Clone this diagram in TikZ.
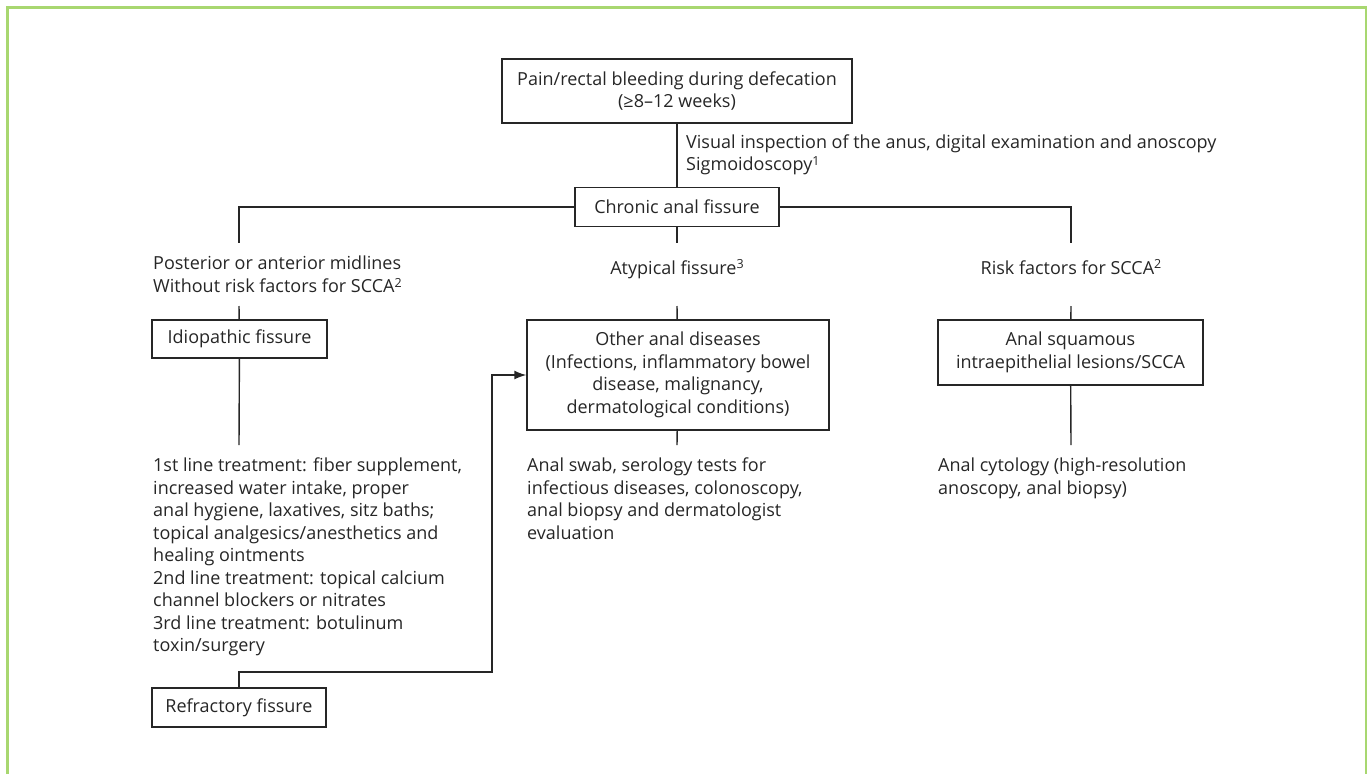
\documentclass[tikz,border=0pt]{standalone}
\usepackage{fontspec}
\setmainfont{Open Sans}
\usetikzlibrary{positioning,arrows.meta}
\definecolor{framegreen}{RGB}{168,215,112}
\definecolor{ink}{RGB}{38,38,38}
\newcommand{\chartfont}{\fontsize{18}{22.5}\selectfont}
\newcommand{\supnum}[1]{\raisebox{0.55ex}{\fontsize{12.5}{12.5}\selectfont #1}}
\tikzset{
  box/.style={draw=ink, line width=1.4pt, align=center, text=ink, font=\chartfont, inner sep=0pt},
  note/.style={align=left, text=ink, font=\chartfont, inner sep=0pt},
  link/.style={draw=ink, line width=1.4pt},
}
\begin{document}
\begin{tikzpicture}[x=1pt,y=-1pt]
		\useasboundingbox (0,0) rectangle (1367,774);
		\draw[framegreen, line width=2.5pt] (7.5,774) -- (7.5,7.5) -- (1366,7.5) -- (1366,774);
		% top of the tree
		\node[box, minimum width=350, minimum height=64] (pain) at (677,91) {Pain/rectal bleeding during defecation\\(≥8–12 weeks)};
		\node[box, minimum width=204, minimum height=39] (chronic) at (677,207) {Chronic anal fissure};
		\node[note, anchor=west] (exam) at (686,155) {Visual inspection of the anus, digital examination and anoscopy\\Sigmoidoscopy\supnum{1}};
		\draw[link] (pain) -- (chronic);
		% branches
		\node[note, anchor=north west] (post) at (153,256) {Posterior or anterior midlines\\Without risk factors for SCCA\supnum{2}};
		\node[note, anchor=base] (atyp) at (677,274) {Atypical fissure\supnum{3}};
		\node[note, anchor=base] (risk) at (1071,274) {Risk factors for SCCA\supnum{2}};
		\coordinate (lstub) at (239,243);
		\coordinate (mstub) at (677,243);
		\coordinate (rstub) at (1071,243);
		\draw[link] (chronic.west) -| (lstub);
		\draw[link] (chronic.east) -| (rstub);
		\draw[link] (chronic) -- (mstub);
		% boxes of the second row
		\node[box, minimum width=175, minimum height=38] (idio) at (239.5,339) {Idiopathic fissure};
		\node[box, minimum width=302, minimum height=110] (other) at (678,375) {Other anal diseases\\(Infections, inflammatory bowel\\disease, malignancy,\\dermatological conditions)};
		\node[box, minimum width=265, minimum height=65] (squam) at (1070.5,352.5) {Anal squamous\\intraepithelial lesions/SCCA};
		\coordinate (lup) at (239,306);
		\coordinate (mup) at (677,306);
		\coordinate (rup) at (1071,306);
		\draw[link] (idio) -- (lup);
		\draw[link] (other) -- (mup);
		\draw[link] (squam) -- (rup);
		\coordinate (ldown) at (239,445);
		\coordinate (mdown) at (677,445);
		\coordinate (rdown) at (1071,445);
		\draw[link] (idio) -- (ldown);
		\draw[link] (other) -- (mdown);
		\draw[link] (squam) -- (rdown);
		% work-up and treatment
		\node[note, anchor=north west] (treat) at (153,458) {1st line treatment: fiber supplement,\\increased water intake, proper\\anal hygiene, laxatives, sitz baths;\\topical analgesics/anesthetics and\\healing ointments\\2nd line treatment: topical calcium\\channel blockers or nitrates\\3rd line treatment: botulinum\\toxin/surgery};
		\node[note, anchor=north west] (swab) at (527,458) {Anal swab, serology tests for\\infectious diseases, colonoscopy,\\anal biopsy and dermatologist\\evaluation};
		\node[note, anchor=north west] (cyto) at (938,458) {Anal cytology (high-resolution\\anoscopy, anal biopsy)};
		% refractory loop back
		\node[box, minimum width=174, minimum height=39] (refr) at (239,707.5) {Refractory fissure};
		\coordinate (bend) at (492,672);
		\draw[link, -{Latex[length=12pt,width=9pt]}] (refr.north) |- (bend) |- (other.west);
\end{tikzpicture}
\end{document}
